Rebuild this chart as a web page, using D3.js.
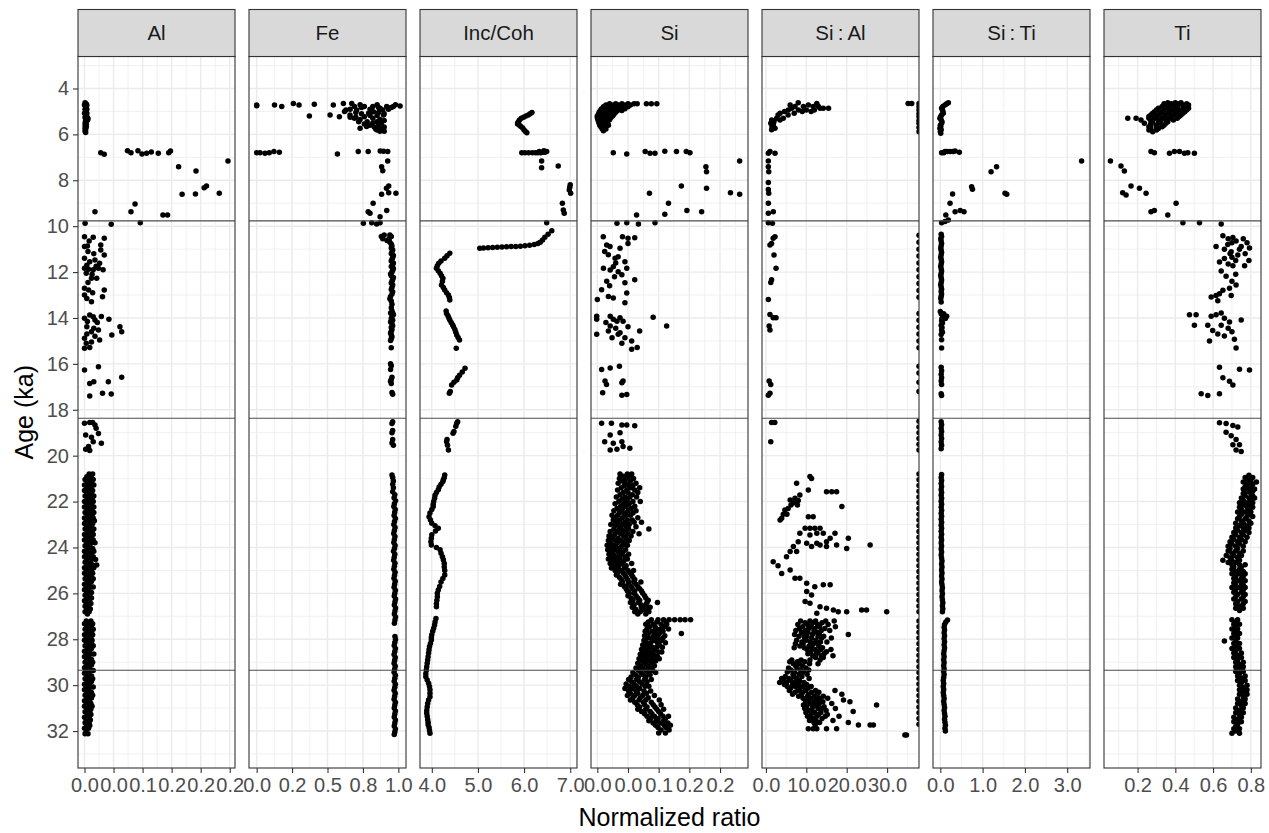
<!DOCTYPE html>
<html><head><meta charset="utf-8">
<script src="https://cdn.jsdelivr.net/npm/d3@7"></script>
<style>body{margin:0;background:#fff}svg{display:block}text{font-family:"Liberation Sans",Arial,sans-serif}</style>
</head><body><svg id="chart" width="1269" height="833"></svg>
<script>
// ---------- chart data ----------
const panelNames = ["Al","Fe","Inc/Coh","Si","Si\u2009:\u2009Al","Si\u2009:\u2009Ti","Ti"];
const xDomains = [[-0.0112,0.2591],[-0.054,1.054],[3.744,7.147],[-0.0103,0.2456],[-0.97,37.9],[-0.173,3.539],[0.022,0.854]];
const xTicks = [[0,.05,.1,.15,.2,.25],[0,.25,.5,.75,1],[4,5,6,7],[0,.05,.1,.15,.2],[0,10,20,30],[0,1,2,3],[.2,.4,.6,.8]];
const xTickLabels = [["0.0","0.0","0.1","0.2","0.2","0.2"],["0.0","0.2","0.5","0.8","1.0"],["4.0","5.0","6.0","7.0"],["0.0","0.0","0.1","0.2","0.2"],["0.0","10.0","20.0","30.0"],["0.0","1.0","2.0","3.0"],["0.2","0.4","0.6","0.8"]];
const xMinorTicks = [[.025,.075,.125,.175,.225],[.125,.375,.625,.875],[4.5,5.5,6.5],[.025,.075,.125,.175,.225],[5,15,25,35],[.5,1.5,2.5,3.5],[.1,.3,.5,.7]];
const yTicks = [4,6,8,10,12,14,16,18,20,22,24,26,28,30,32];
const yMinorTicks = [3,5,7,9,11,13,15,17,19,21,23,25,27,29,31,33];
const yDomain = [2.606,33.61];
const boundaryAges = [9.77,18.37,29.35];

// rows: [age (ka), value, value, ...]
const alRows = [
[4.62,.001],[4.68,.003],[4.72,.0,.004],[4.78,.002],[4.84,.003],[4.9,.001,.004],[4.96,.002],[5.02,.003],[5.08,.0,.004],[5.14,.002],[5.2,.003],[5.26,.005,.001],[5.32,.006,.003],[5.38,.002,.005],[5.44,.003],[5.5,.001],[5.56,.003],[5.62,.001],[5.68,.003],[5.74,.001],[5.8,.002],[5.86,.001],[5.92,.002],
[6.71,.074,.092],[6.72,.148],[6.77,.115],[6.8,.028,.080,.145],[6.82,.107,.127],[6.85,.099],[6.87,.034],
[7.16,.247],[7.41,.162],[7.6,.192],[8.25,.21],[8.32,.206],[8.57,.232],[8.6,.191],[8.61,.168],[9.03,.087],[9.37,.080,.018],[9.51,.135,.143],[9.85,.096],[9.87,.001],[9.92,.046],
[10.46,.0],[10.48,.015],[10.53,.034],[10.65,.008],[10.82,.028],[10.86,.005],[10.89,.0],[11.04,.028],[11.1,.006],[11.2,.016],[11.26,.034],[11.4,.0],[11.47,.018],[11.55,.009],[11.62,.026],[11.7,.004],[11.75,.02],[11.83,.0,.024],[11.88,.007],[11.9,.015,.032],[12.05,.003],[12.1,.013],[12.27,.012,.021],[12.45,.006],[12.7,.0],[12.78,.007,.034],[12.9,.014],[13.0,.0],[13.07,.031],[13.15,.004],[13.29,.012],[13.87,.009],[13.94,.029],[13.95,.015],[14.01,.0],[14.06,.042],[14.09,.018],[14.15,.005],[14.2,.022],[14.38,.004,.061],[14.45,.016],[14.52,.024],[14.6,.012,.064],[14.7,.004],[14.74,.047],[14.8,.018],[14.88,.0],[14.96,.026],[15.05,.012],[15.1,.003],[15.29,.009],[15.32,.0],[16.12,.024],[16.27,.0],[16.58,.064],[16.78,.016,.041],[16.85,.009],[17.28,.031],[17.31,.046],[17.4,.009],
[18.55,.014],[18.56,.009],[18.59,.0],[18.66,.018],[18.8,.02],[19.03,.024],[19.1,.002],[19.2,.012],[19.39,.015],[19.46,.029],[19.6,.007],[19.72,.002],[19.78,.009],
[20.8,.008,.014],[20.92,.004,.011],[21.04,.001,.008,.015],[21.16,.005,.012],[21.28,.0,.009,.016],[21.4,.004,.011],[21.52,.0,.007,.014],[21.64,.004,.012],[21.76,.001,.009,.016],[21.88,.005,.013],[22.0,.0,.008,.015],[22.12,.004,.012],[22.24,.0,.007,.016],[22.36,.004,.013],[22.48,.001,.009,.016],[22.6,.005,.013],[22.72,.0,.008,.015],[22.84,.003,.011,.017],[22.96,.0,.007,.014],[23.08,.004,.012],[23.2,.001,.009,.016],[23.32,.005,.013],[23.44,.0,.008,.015],[23.56,.003,.012],[23.68,.0,.007,.015],[23.8,.004,.012,.018],[23.92,.001,.009],[24.04,.005,.014],[24.16,.0,.008,.016],[24.28,.003,.012],[24.4,.0,.007,.015],[24.52,.004,.012,.019],[24.64,.001,.01],[24.76,.005,.014,.021],[24.88,.0,.008,.016],[25.0,.003,.012],[25.12,.0,.007,.014],[25.24,.004,.011],[25.36,.001,.009,.015],[25.48,.005,.012],[25.6,.0,.008],[25.72,.003,.011,.015],[25.84,.0,.007],[25.96,.004,.012],[26.08,.001,.009],[26.2,.005,.012],[26.32,.0,.008],[26.44,.003,.011],[26.56,.001,.007],[26.68,.004,.01],[26.8,.001,.008],[26.9,.005],
[27.2,.003,.011],[27.32,.0,.008,.014],[27.44,.004,.012],[27.56,.001,.009,.015],[27.68,.005,.012],[27.8,.0,.008,.014],[27.92,.003,.011],[28.04,.0,.007,.013],[28.16,.004,.012],[28.28,.001,.009,.015],[28.4,.005,.012],[28.52,.0,.008],[28.64,.003,.011,.016],[28.76,.0,.007],[28.88,.004,.012],[29.0,.001,.009,.014],[29.12,.005,.012],[29.24,.0,.008],[29.36,.003,.011,.015],[29.48,.0,.007],[29.6,.004,.012],[29.72,.001,.009,.014],[29.84,.005,.012],[29.96,.0,.008],[30.08,.003,.011,.015],[30.2,.0,.007],[30.32,.004,.012],[30.44,.001,.009,.014],[30.56,.005,.012],[30.68,.0,.008],[30.8,.003,.011],[30.92,.0,.007,.013],[31.04,.004,.011],[31.16,.001,.009],[31.28,.005,.011],[31.4,.0,.008],[31.52,.003,.01],[31.64,.001,.008],[31.76,.004,.009],[31.88,.0,.007],[32.0,.003],[32.12,.001,.006]
];

const feRows = [
[4.72,.0,.126,.299,.541],[4.75,.0],[4.79,.177,.69,.76,.82,.918,.965],[4.65,.259,.612,.671],[4.69,.407],[4.76,1.012],[4.71,.73,.85,.98],[4.83,.74,.86,.95],[4.86,.872],[4.9,.66,.8,.93],[4.94,.706,.63,.89],[5.0,.62],[5.01,.824],[5.05,.7,.86],[5.08,.79],[5.1,.74,.9],[5.15,.518,.659,.895],[5.18,.8,.85],[5.2,.372],[5.23,.584,.76],[5.25,.66,.7],[5.3,.69,.82],[5.35,.73,.87],[5.4,.9],[5.45,.72,.78,.85],[5.5,.82,.88],[5.55,.76],[5.6,.80],[5.62,.86],[5.66,.776],[5.68,.83,.9],[5.72,.87],[5.73,.73],[5.76,.84],[5.81,.895,.85],[5.86,.9,.87],
[6.8,.0,.024,.089],[6.82,.059],[6.75,.122,.717,.787,.925],[6.78,.16],[6.85,.57],[6.72,.872],[6.74,.895],[7.16,.925],[7.41,.882],[7.58,.89],[8.25,.932],[8.35,.916],[8.54,.932],[8.57,.983],[8.61,.882],[9.0,.822],[9.32,.918],[9.37,.787],[9.44,.80],[9.59,.871],[9.85,.812,.871],[9.87,.753],[9.9,.847],
[10.38,.9,.94],[10.45,.88,.95],[10.55,.89,.935],[10.62,.92],[10.7,.94],[10.78,.95],[10.86,.955],[10.95,.95],[11.04,.96],[11.12,.955],[11.2,.95],[11.28,.965],[11.36,.96],[11.44,.955],[11.52,.95],[11.6,.965],[11.68,.96],[11.76,.95],[11.84,.965],[11.92,.96],[12.0,.955],[12.08,.945],[12.16,.95],[12.24,.965],[12.32,.96],[12.4,.955],[12.48,.95],[12.56,.96],[12.66,.955],[12.76,.95],[12.86,.96],[12.96,.955],[13.06,.945],[13.16,.94],[13.26,.95],[13.4,.955],[13.55,.95],[13.7,.955],[13.78,.96,.945],[13.86,.965],[13.94,.955],[14.02,.95],[14.1,.96],[14.18,.945],[14.26,.955],[14.34,.96],[14.42,.95],[14.5,.955],[14.58,.95],[14.66,.945],[14.74,.95],[14.82,.955],[14.9,.95],[14.98,.945],[15.3,.95],[16.0,.945],[16.08,.95],[16.25,.945],[16.58,.955],[16.68,.95],[16.76,.945],[16.86,.95],[17.25,.955],[17.32,.96],
[18.52,.96],[18.6,.955],[18.9,.96],[19.0,.955],[19.3,.96],[19.45,.955],[19.55,.965],
[20.84,.955],[20.95,.96],[21.1,.965],[21.25,.96],[21.4,.965],[21.57,.96],
[21.7,.975],[21.83,.97],[21.96,.98],[22.09,.972],[22.22,.968],[22.35,.978],[22.48,.974],[22.61,.97],[22.74,.979],[22.87,.973],[23.0,.968],[23.13,.977],[23.26,.972],[23.39,.967],[23.52,.976],[23.65,.972],[23.78,.968],[23.91,.977],[24.04,.973],[24.17,.966],[24.3,.975],[24.43,.971],[24.56,.967],[24.69,.976],[24.82,.972],[24.95,.968],[25.08,.977],[25.21,.973],[25.34,.969],[25.47,.978],[25.6,.974],[25.73,.97],[25.86,.979],[25.99,.975],[26.12,.971],[26.25,.98],[26.38,.976],[26.51,.972],[26.64,.98],[26.77,.976],[26.9,.972],[27.03,.98],[27.16,.976],[27.3,.972],
[27.88,.976],[28.01,.98],[28.14,.975],[28.27,.971],[28.4,.979],[28.53,.975],[28.66,.97],[28.79,.978],[28.92,.974],[29.05,.97],[29.18,.978],[29.31,.974],[29.44,.97],[29.57,.979],[29.7,.975],[29.83,.971],[29.96,.979],[30.09,.975],[30.22,.97],[30.35,.978],[30.48,.974],[30.61,.97],[30.74,.979],[30.87,.975],[31.0,.971],[31.13,.979],[31.26,.975],[31.39,.971],[31.52,.979],[31.65,.975],[31.78,.971],[31.91,.979],[32.04,.975],[32.15,.971]
];

const incCohRows = [
[5.05,6.17],[5.1,6.13],[5.15,6.09],[5.2,6.04],[5.25,5.99],[5.3,5.94],[5.37,5.9],[5.45,5.88],[5.5,5.86],[5.55,5.86],[5.6,5.9],[5.66,5.93],[5.72,5.97],[5.81,6.0],[5.87,6.03],[5.93,6.06],
[6.8,5.95,6.02,6.1,6.18,6.25,6.3,6.36],[6.78,6.4,6.45],[6.71,6.43],[6.75,6.49,6.33],[7.16,6.38],[7.45,6.38],[7.38,6.74],[8.2,7.0],[8.3,6.99],[8.42,6.98],[8.57,7.01],[9.0,6.83],[9.3,6.85],[9.44,6.87],[9.85,6.49],
[10.2,6.6],[10.35,6.52],[10.48,6.45],[10.6,6.4],[10.7,6.35],[10.76,6.3],[10.8,6.22],[10.83,6.12],[10.85,6.02],[10.87,5.92],[10.88,5.82],[10.89,5.72],[10.9,5.62],[10.91,5.52],[10.92,5.42],[10.93,5.32],[10.94,5.22],[10.95,5.12],[10.96,5.04],
[11.18,4.39],[11.29,4.33],[11.4,4.28],[11.52,4.2],[11.62,4.15],[11.72,4.12],[11.83,4.1],[11.94,4.14],[12.05,4.18],[12.16,4.21],[12.27,4.24],[12.4,4.23],[12.56,4.21],[12.67,4.25],[12.78,4.28],[12.9,4.32],[13.0,4.36],[13.11,4.38],[13.22,4.39],[13.7,4.31],[13.8,4.32],[13.9,4.35],[14.0,4.37],[14.09,4.39],[14.2,4.42],[14.3,4.45],[14.38,4.47],[14.5,4.5],[14.62,4.52],[14.74,4.54],[14.85,4.57],[14.96,4.6],[15.32,4.53],[16.19,4.72],[16.35,4.66],[16.5,4.6],[16.6,4.56],[16.7,4.54],[16.8,4.48],[16.92,4.43],[17.2,4.4],[17.28,4.38],
[18.52,4.56],[18.59,4.54],[18.72,4.52],[18.95,4.48],[19.02,4.46],[19.3,4.33],[19.39,4.32],[19.55,4.34],[19.75,4.36],
[20.84,4.28],[20.95,4.27],[21.05,4.25],[21.13,4.24],[21.25,4.2],[21.37,4.16],[21.49,4.14],[21.6,4.1],[21.72,4.07],[21.86,4.06],[22.0,4.04],[22.12,4.03],[22.22,4.03],[22.35,4.0],[22.5,3.96],[22.66,3.94],[22.8,3.97],[22.95,4.0],[23.05,4.07],[23.16,4.14],[23.28,4.08],[23.45,4.0],[23.6,3.99],[23.75,3.98],[23.89,3.99],[24.0,4.1],[24.1,4.18],[24.25,4.2],[24.4,4.23],[24.54,4.25],[24.7,4.27],[24.85,4.27],[25.0,4.28],[25.2,4.28],[25.35,4.24],[25.5,4.2],[25.7,4.17],[25.85,4.14],[26.0,4.12],[26.15,4.12],[26.3,4.11],[26.45,4.1],[26.58,4.1],
[27.1,4.09],[27.25,4.07],[27.38,4.06],[27.52,4.04],[27.65,4.02],[27.8,4.0],[27.92,3.99],[28.03,3.99],[28.18,3.97],[28.32,3.95],[28.46,3.94],[28.6,3.93],[28.76,3.92],[28.9,3.91],[29.05,3.9],[29.2,3.89],[29.35,3.88],[29.5,3.87],[29.63,3.87],[29.78,3.9],[29.92,3.93],[30.06,3.95],[30.2,3.96],[30.35,3.96],[30.5,3.96],[30.65,3.93],[30.8,3.91],[30.95,3.9],[31.1,3.89],[31.22,3.89],[31.36,3.9],[31.5,3.91],[31.62,3.92],[31.73,3.92],[31.85,3.94],[31.98,3.95],[32.1,3.96]
];

const siRows = [
[4.66,.02,.03,.04,.05,.06,.065,.08,.088,.097],[4.72,.014,.024,.034,.044,.054],[4.8,.01,.02,.03,.04,.05],[4.88,.007,.016,.026,.036,.045],[4.96,.005,.014,.023,.033,.04],[5.04,.003,.012,.021,.03],[5.12,.002,.01,.019,.027],[5.2,.0,.008,.017,.025],[5.28,.0,.007,.015,.022],[5.36,.001,.007,.014,.02],[5.44,.002,.008,.015],[5.52,.003,.01,.017],[5.6,.004,.011,.018],[5.68,.006,.012],[5.76,.008,.014],[5.84,.01],
[6.8,.026,.151],[6.85,.048],[6.75,.078,.129,.145],[6.82,.086,.094],[6.73,.110],
[7.16,.232],[7.41,.177],[7.63,.178],[8.25,.137],[8.35,.178],[8.54,.217],[8.61,.232],[8.57,.085],[9.0,.116],[9.48,.11],[9.32,.146],[9.37,.17],[9.51,.064],[9.87,.032],[9.85,.048,.094],[9.9,.067],
[10.46,.0097,.041],[10.53,.05],[10.5,.061],[10.82,.0153],[10.89,.0207],[10.96,.037],[10.75,.05],[11.1,.012],[11.25,.018],[11.4,.029],[11.33,.034],[11.55,.045],[11.6,.03],[11.83,.01,.048],[11.91,.021],[11.77,.026],[11.99,.034],[12.12,.04],[12.2,.028],[12.4,.0153],[12.47,.045],[12.33,.061],[12.6,.02],[12.77,.007],[13.2,.0],[13.06,.018],[13.13,.026],[12.91,.048],[13.34,.045],[13.92,-.001,.021],[14.06,-.001,.026],[14.14,.032,.042],[13.99,.037],[13.97,.091],[14.2,.014],[14.35,.113,.021],[14.45,.03],[14.57,.018,.069],[14.64,.037],[14.38,.05],[14.86,.045,.024],[15.0,.056],[15.1,.04],[14.71,-.001,.034],[15.36,.056],[15.29,.065],[16.25,.007],[16.18,.021],[16.1,.036],[16.75,.0125,.042],[16.9,.015],[16.82,.04],[17.26,.0087],[17.37,.04],[17.33,.048],
[18.59,.007,.023],[18.66,.04,.048],[18.7,.061],[19.1,.021],[19.0,.037],[19.39,.012,.04],[19.46,.026],[19.75,.021],[19.72,.032],[19.68,.053],[19.6,.042],
[20.8,.037,.049,.056],[20.9,.043,.052],[21.0,.036,.047,.059],[21.1,.041,.054],[21.2,.034,.046,.063],[21.3,.044,.051,.058],[21.4,.039,.055,.069],[21.5,.033,.048,.061],[21.6,.042,.05,.066],[21.7,.037,.057],[21.8,.031,.045,.053,.064],[21.9,.04,.049],[22.0,.035,.046,.058,.07],[22.1,.029,.043,.052],[22.2,.038,.047,.061],[22.3,.032,.041,.055],[22.4,.027,.039,.05,.063],[22.5,.036,.044,.058],[22.6,.024,.033,.047,.054],[22.7,.03,.041,.066],[22.8,.026,.037,.049,.057],[22.9,.033,.045,.06,.072],[23.0,.022,.029,.041,.052],[23.1,.035,.047,.063],[23.2,.027,.039,.051,.084],[23.3,.021,.032,.044,.058],[23.4,.029,.038,.05,.068],[23.5,.019,.026,.043,.055],[23.6,.024,.034,.047],[23.7,.018,.03,.039,.052],[23.8,.022,.033,.045],[23.9,.016,.027,.041,.049],[24.0,.021,.031,.038],[24.1,.017,.028,.036,.046],[24.2,.023,.034,.042],[24.3,.019,.026,.039,.051],[24.4,.024,.033,.045],[24.5,.018,.029,.037,.049],[24.6,.025,.036,.043],[24.7,.021,.031,.04,.056],[24.8,.027,.035,.047],[24.9,.023,.032,.044],[25.0,.029,.038,.05,.059],[25.1,.033,.042,.053],[25.2,.031,.045,.056],[25.3,.036,.047,.058],[25.4,.039,.049,.061],[25.5,.041,.052,.06,.071],[25.6,.038,.05,.063],[25.7,.044,.055,.066],[25.8,.047,.057,.069],[25.9,.049,.061,.072],[26.0,.052,.06,.074],[26.1,.05,.063,.077],[26.2,.055,.066,.079],[26.3,.058,.069,.083],[26.4,.054,.067,.081,.098],[26.5,.06,.071,.079],[26.6,.057,.072,.086],[26.7,.063,.075,.081],[26.8,.061,.07,.084],[26.9,.066,.079],
[27.15,.088,.099,.108,.117,.126,.135,.143,.152],[27.25,.083,.097,.112],[27.35,.079,.091,.104,.113],[27.45,.085,.094,.109],[27.55,.081,.096,.103,.116],[27.65,.078,.089,.107],[27.75,.083,.095,.101,.137],[27.85,.077,.092,.11],[27.95,.082,.088,.099,.107],[28.05,.076,.093,.104],[28.15,.08,.087,.098,.111],[28.25,.074,.085,.101],[28.35,.079,.09,.097,.106],[28.45,.072,.083,.094],[28.55,.077,.088,.1,.105],[28.65,.07,.081,.092],[28.75,.075,.086,.098],[28.85,.068,.079,.091,.101],[28.95,.073,.084,.095],[29.05,.066,.077,.089],[29.15,.07,.082,.093],[29.25,.063,.074,.086],[29.35,.067,.079,.09],[29.45,.058,.071,.083,.095],[29.55,.062,.075,.086],[29.65,.055,.067,.079],[29.75,.051,.064,.077,.088],[29.85,.056,.069,.081],[29.95,.047,.06,.073],[30.05,.052,.064,.078,.084],[30.15,.045,.057,.069],[30.25,.051,.063,.076,.087],[30.35,.054,.066,.08],[30.45,.049,.061,.074,.093],[30.55,.058,.07,.083],[30.65,.054,.068,.079,.101],[30.75,.061,.075,.088],[30.85,.065,.077,.091,.104],[30.95,.069,.081,.094],[31.05,.066,.079,.097,.108],[31.15,.072,.086,.1],[31.25,.077,.089,.103],[31.35,.081,.093,.107,.116],[31.45,.087,.099,.111],[31.55,.084,.096,.108],[31.65,.091,.103,.115],[31.75,.095,.109,.119],[31.85,.099,.112],[31.95,.104,.117],[32.08,.1,.111]
];

const siAlRows = [
[4.62,8.0],[4.65,12.6,35.2,36.1],[4.72,10.5,6.0],[4.79,7.2,9.27,11.7,13.0],[4.86,6.38,14.2,13.4,15.5],[4.94,5.54,8.03,10.0,12.0],[5.0,4.6,9.0,11.2],[5.08,3.5,7.0],[5.15,3.0,5.5],[5.3,2.67,4.3],[5.37,1.43,3.49],[5.45,2.0],[5.52,1.2],[5.59,1.83],[5.66,1.5],[5.73,2.25],[5.8,1.4],
[4.65,37.9],[4.8,37.9],[4.94,37.9],[5.1,37.9],[5.23,37.9],[5.4,37.9],[5.52,37.9],[5.7,37.9],[5.88,37.9],
[6.75,1.0],[6.82,0.6,2.25],[7.16,0.6],[7.41,0.6],[7.63,0.7],[8.1,0.6],[8.4,0.6],[8.57,0.7],[9.0,0.6],[9.37,1.83],[9.44,0.6],[9.85,0.6],
[9.87,1.6],[10.53,1.8],[10.46,2.25],[10.82,1.0],[10.75,1.4],[11.26,2.0],[11.83,2.5],[12.33,1.4],[12.45,1.2],[13.2,0.6],[13.85,1.0],[13.99,1.8,2.5],[14.35,0.8],[14.52,1.0],[16.75,0.8],[16.9,1.2],[17.28,1.0],[17.37,0.6],
[10.4,37.9],[10.7,37.9],[11.0,37.9],[11.3,37.9],[11.6,37.9],[11.9,37.9],[12.2,37.9],[12.5,37.9],[12.8,37.9],[13.1,37.9],[13.8,37.9],[14.1,37.9],[14.4,37.9],[14.7,37.9],[15.0,37.9],[15.3,37.9],[16.1,37.9],[16.4,37.9],[16.8,37.9],[17.2,37.9],
[18.56,1.4,2.2],[19.39,1.2],
[20.91,10.9],[20.99,11.3],[21.2,7.6],[21.5,10.5],[21.57,15.0,16.3,17.5],[21.71,8.4],[21.86,7.2],[21.93,6.0],[21.95,8.0],[22.05,6.9],[22.15,7.8,6.2],[22.22,18.8],[22.3,5.5],[22.37,4.7],[22.55,4.3,5.2],[22.66,10.5,11.7],[22.73,3.9],[22.8,3.5],[23.16,10.9,9.7,12.1,13.4],[23.38,8.4,12.6,14.2,17.1],[23.46,10.9],[23.6,20.4,15.9],[23.75,15.0,8.0],[23.82,12.6,10.1],[23.89,13.4,17.5,25.8],[23.96,6.8,11.3,15.0],[24.04,20.0],
[24.18,6.0,7.6],[24.4,5.1],[24.62,1.8],[24.8,3.0],[24.98,6.0],[25.13,3.9],[25.34,7.2,8.4],[25.56,10.1],[25.63,14.2,15.9],[25.71,12.1],[25.92,10.1],[26.07,11.3],[26.36,9.7],[26.43,10.9],[26.58,13.4],[26.65,15.0],[26.72,16.7,23.7,24.9],[26.8,17.9,20.0,29.9],[26.87,12.6],
[27.2,8.6,10.9,12.3,14.8,16.9],[27.28,9.7,11.6,13.9],[27.36,7.9,10.3,12.8,15.4],[27.45,9.1,11.2,13.3,17.2],[27.53,8.3,10.6,12.1,14.6],[27.62,7.4,9.8,11.9,13.7,15.8],[27.7,8.8,10.4,12.6],[27.79,7.1,9.4,11.5,13.2,20.4],[27.87,8.2,10.1,12.9,14.3],[27.95,9.6,11.3,13.8,16.2],[28.04,7.6,10.0,12.4],[28.12,8.9,11.0,13.5,15.1],[28.2,7.3,9.2,11.7,12.8],[28.29,8.4,10.7,13.1],[28.37,7.0,9.5,11.4,14.0],[28.45,10.2,12.2,13.6,16.1],[28.54,11.1,12.9,15.0],[28.63,10.4,12.5,14.4],[28.72,11.6,13.7,16.6],[28.8,12.3,14.2],[28.9,6.4,8.7,10.9,13.4],[28.98,5.9,7.8,9.6],[29.07,6.8,8.3,10.8,12.9],[29.16,7.4,9.1],[29.25,5.6,7.7,9.9],[29.34,6.2,8.6,10.6],[29.43,5.3,7.1,9.3],[29.52,6.7,8.2,10.2],
[29.62,4.8,6.9,8.9],[29.71,3.9,5.7,7.6,10.7],[29.8,4.4,6.2,8.3],[29.88,3.4,5.1,7.2,9.4],[29.97,4.6,6.6,8.1,10.1],[30.06,5.3,7.3,9.2,11.2],[30.14,6.1,8.4,10.4],[30.23,5.8,7.9,9.8,12.3,17.1],[30.31,7.2,9.1,11.3,13.1],[30.4,6.6,8.8,10.6,12.7,18.8],[30.48,8.1,10.3,12.0,14.2],[30.57,9.2,11.1,13.3,15.3],[30.65,10.4,12.6,19.2],[30.72,9.8,11.9,14.1,20.8],[30.8,10.9,13.2,16.3],[30.86,9.3,12.4,27.4],[30.94,10.1,11.6,14.4],[31.02,9.6,12.9,13.8,17.2],[31.1,10.7,11.4,14.9],[31.15,21.6],[31.19,9.9,12.1,13.6],[31.28,11.2,13.0,15.2],[31.36,10.3,12.6,14.7,18.1],[31.45,11.5,13.9],[31.54,10.8,12.4,16.6],[31.63,11.9,13.3,20.4],[31.74,22.9,25.8,26.6,12.2],[31.9,10.5,11.7,12.6,15.0,17.5],[32.17,34.4,34.8],
[18.5,37.9],[18.75,37.9],[19.0,37.9],[19.25,37.9],[19.5,37.9],[19.75,37.9],[20.8,37.9],[21.05,37.9],[21.3,37.9],[21.55,37.9],[21.8,37.9],[22.05,37.9],[22.3,37.9],[22.55,37.9],[22.8,37.9],[23.05,37.9],[23.3,37.9],[23.55,37.9],[23.8,37.9],[24.05,37.9],[24.3,37.9],[24.55,37.9],[24.8,37.9],[25.05,37.9],[25.3,37.9],[25.55,37.9],[25.8,37.9],[26.05,37.9],[26.3,37.9],[26.55,37.9],[26.8,37.9],[27.2,37.9],[27.45,37.9],[27.7,37.9],[27.95,37.9],[28.2,37.9],[28.45,37.9],[28.7,37.9],[28.95,37.9],[29.2,37.9],[29.45,37.9],[29.7,37.9],[29.95,37.9],[30.2,37.9],[30.45,37.9],[30.7,37.9],[30.95,37.9],[31.2,37.9],[31.45,37.9],[31.7,37.9]
];

const siTiRows = [
[4.62,.19],[4.67,.15],[4.72,.11],[4.78,.06],[4.86,.03],[4.93,.05],[5.0,.06],[5.08,.07],[5.15,.03],[5.22,.01],[5.3,-.01],[5.37,.02],[5.45,.04],[5.52,.03],[5.6,.0],[5.66,.01],[5.73,-.01],[5.8,.02],[5.88,.0],[5.95,.01],
[6.8,.03,.08],[6.75,.11,.16,.23,.3],[6.72,.35],[6.78,.45],[7.16,3.34],[7.63,1.2],[7.41,1.33],[8.28,.74],[8.39,.76],[8.57,1.53],[8.61,1.57],[8.6,.29],[9.0,.23],[9.51,.13],[9.37,.35,.56],[9.32,.47],[9.85,.03],[9.8,.11],[9.73,.19],
[10.35,.02],[10.45,.03],[10.55,.01],[10.65,.02],[10.75,.03],[10.85,.02],[10.95,.01],[11.05,.02],[11.15,.03],[11.25,.02],[11.35,.01],[11.45,.02],[11.55,.03],[11.65,.02],[11.75,.01],[11.85,.02],[11.95,.03],[12.05,.02],[12.15,.01],[12.25,.02],[12.35,.03],[12.45,.02],[12.55,.01],[12.65,.02],[12.75,.03],[12.85,.02],[12.95,.03],[13.05,.02],[13.15,.01],[13.3,.02],
[13.72,.0],[13.82,.02,.08],[13.92,.06,.15],[14.02,.04,.12],[14.12,.03],[14.22,.05],[14.32,.02],[14.42,.04],[14.52,.03],[14.62,.05],[14.72,.02],[14.95,.03],[15.31,.03],
[16.15,.02],[16.3,.03],[16.45,.02],[16.6,.03],[16.75,.02],[16.9,.03],[17.3,.02],[17.38,.03],
[18.52,.02],[18.65,.03],[18.8,.02],[18.95,.03],[19.1,.02],[19.25,.03],[19.4,.02],[19.55,.03],[19.7,.02],
[20.82,.03],[20.95,.02],[21.08,.03],[21.21,.02],[21.34,.03],[21.47,.02],[21.6,.03],[21.73,.02],[21.86,.03],[21.99,.02],[22.12,.03],[22.25,.02],[22.38,.03],[22.51,.02],[22.64,.03],[22.77,.02],[22.9,.03],[23.03,.02],[23.16,.03],[23.29,.02],[23.42,.03],[23.55,.02],[23.68,.03],[23.81,.02],[23.94,.03],[24.07,.02],[24.2,.03],[24.33,.02],[24.46,.03],[24.59,.04],[24.72,.03],[24.85,.04],[24.98,.03],[25.11,.04],[25.24,.03],[25.37,.04],[25.5,.03],[25.63,.04],[25.76,.05],[25.89,.04],[26.02,.05],[26.15,.04],[26.28,.05],[26.41,.06],[26.54,.05],[26.67,.06],[26.8,.05],
[27.16,.17],[27.25,.13],[27.36,.1],[27.48,.09],[27.6,.1],[27.72,.09],[27.85,.1],[27.98,.09],[28.11,.1],[28.24,.09],[28.37,.1],[28.5,.09],[28.63,.08],[28.76,.09],[28.89,.08],[29.02,.09],[29.15,.08],[29.28,.09],[29.41,.08],[29.54,.09],[29.67,.08],[29.8,.07],[29.93,.08],[30.06,.07],[30.19,.08],[30.32,.07],[30.45,.08],[30.58,.09],[30.71,.08],[30.84,.09],[30.97,.1],[31.1,.09],[31.23,.1],[31.36,.11],[31.49,.1],[31.62,.11],[31.75,.12],[31.88,.11],[32.0,.12]
];

const tiRows = [
[4.62,.36,.40,.43],[4.67,.34,.38,.42,.46],[4.72,.35,.39,.44,.47],[4.79,.33,.37,.41,.45],[4.86,.31,.36,.40,.44,.47],[4.94,.30,.34,.38,.42,.46],[5.01,.29,.33,.37,.41,.45],[5.08,.28,.32,.36,.40,.44],[5.15,.27,.31,.35,.39,.43],[5.22,.26,.30,.34,.38,.42],[5.3,.148,.192,.26,.29,.33,.37,.41],[5.37,.218,.27,.31,.35,.39],[5.45,.28,.32,.36],[5.52,.236,.27,.31,.35],[5.6,.27,.3,.34],[5.67,.26,.3,.33],[5.74,.27,.31],[5.81,.26,.3],[5.88,.28],
[6.75,.271,.395,.422],[6.8,.289,.466],[6.82,.369,.448,.501],
[7.16,.056],[7.38,.112],[7.6,.13],[8.54,.121],[8.64,.139],[8.25,.165],[8.35,.21],[8.57,.245],[9.37,.271],[9.32,.289],[9.51,.36],[9.0,.404],[9.85,.44,.528],[9.9,.643],
[10.42,.652],[10.49,.705],[10.55,.68,.76],[10.65,.722],[10.72,.7,.78],[10.8,.678],[10.88,.749,.616],[10.95,.793],[11.0,.66,.74],[11.11,.696],[11.2,.69,.77],[11.26,.731],[11.35,.7],[11.41,.66],[11.5,.72,.79],[11.56,.634],[11.65,.68],[11.72,.767,.705],
[11.95,.643],[12.1,.72],[12.18,.669],[12.4,.7],[12.56,.722],[12.71,.687],[12.79,.652],[12.94,.634],[13.02,.616,.696],[13.09,.590],[13.25,.625],
[13.78,.643],[13.86,.475,.51,.616],[13.93,.59],[14.01,.66],[14.09,.749],[14.17,.687],[14.32,.501,.572,.643],[14.45,.68],[14.55,.598],[14.6,.7],[14.7,.625],[14.78,.66],[14.93,.713],[15.0,.581],[15.31,.722],
[16.15,.634],[16.23,.74],[16.27,.793],[16.61,.652],[16.76,.687],[16.92,.705],[17.3,.537,.634],[17.38,.572],
[18.57,.634],[18.6,.669],[18.68,.705],[18.75,.731],[18.98,.669],[19.13,.696],[19.29,.722],[19.52,.74,.705],[19.75,.722],[19.82,.749],
[20.85,.79],[20.95,.77,.81],[21.05,.78,.8],[21.15,.76,.8,.83],[21.25,.78,.81],[21.35,.77,.8],[21.45,.76,.79,.82],[21.55,.78,.81],[21.65,.76,.8],[21.75,.77,.81],[21.85,.75,.79,.82],[21.95,.76,.8],
[22.05,.74,.78,.81],[22.15,.76,.8],[22.25,.74,.78,.81],[22.35,.75,.79],[22.45,.73,.77,.8],[22.55,.75,.79],[22.65,.74,.78,.81],[22.75,.73,.77],[22.85,.75,.79],[22.95,.72,.76,.8],[23.05,.74,.78],[23.15,.72,.76,.79],[23.25,.73,.77],[23.35,.71,.75,.79],[23.45,.72,.76],
[23.55,.7,.74,.78],[23.65,.71,.75],[23.75,.69,.73,.77],[23.85,.7,.74],[23.95,.68,.72,.76],[24.05,.69,.73],[24.15,.68,.72,.76],[24.25,.7,.74],[24.35,.67,.71,.75],[24.45,.69,.73],[24.56,.652,.7,.74],[24.65,.68,.72],[24.75,.7,.74,.77],[24.85,.71,.75],[24.95,.7,.74],
[25.05,.72,.76],[25.15,.7,.74,.77],[25.25,.72,.76],[25.35,.71,.75],[25.45,.73,.77],[25.55,.71,.75],[25.65,.72,.76],[25.75,.7,.74,.77],[25.85,.72,.76],[25.95,.71,.75],[26.05,.73,.77],[26.15,.72,.76],[26.25,.71,.75],[26.35,.73,.77],[26.45,.72,.76],[26.55,.74],[26.65,.72,.76],[26.75,.74],
[27.15,.7,.73],[27.25,.72],[27.35,.71,.74],[27.45,.72],[27.55,.7,.73],[27.65,.72],[27.75,.71,.74],[27.85,.72],[27.95,.7,.73],[28.08,.66,.72],[28.18,.71,.74],[28.3,.72],[28.4,.7,.74],[28.5,.72],[28.6,.71,.75],[28.7,.73],[28.8,.71,.75],[28.9,.73],[29.0,.72,.76],[29.1,.74],[29.2,.72,.76],[29.3,.74],[29.4,.72,.76],[29.5,.74],[29.6,.73,.77],[29.7,.75],[29.8,.73,.77],[29.9,.75],[30.0,.74,.78],[30.1,.76],[30.2,.74,.78],[30.3,.76],[30.4,.74,.78],[30.5,.76],[30.6,.73,.77],[30.7,.75],[30.8,.73,.77],[30.9,.75],[31.0,.72,.76],[31.1,.74],[31.2,.72,.76],[31.3,.74],[31.4,.71,.75],[31.5,.73],[31.6,.71,.75],[31.7,.73],[31.8,.72],[31.9,.71,.74],[32.0,.72],[32.1,.7,.74]
];

const rowsByPanel = [alRows, feRows, incCohRows, siRows, siAlRows, siTiRows, tiRows];

// ---------- drawing ----------
(function draw() {
  const svg = d3.select("#chart");
  const FONT = '"Liberation Sans", Arial, sans-serif';
  const panelW = 157, gap = 14, left0 = 78, pTop = 56.5, pBottom = 768, stripTop = 9.5;
  const y = d3.scaleLinear().domain(yDomain).range([pTop, pBottom]);
  const defs = svg.append("defs");

  panelNames.forEach((name, i) => {
    const x0 = left0 + i * (panelW + gap);
    const x = d3.scaleLinear().domain(xDomains[i]).range([x0, x0 + panelW]);
    const g = svg.append("g");
    g.append("rect").attr("x", x0).attr("y", pTop).attr("width", panelW).attr("height", pBottom - pTop).attr("fill", "#fff");
    g.selectAll(null).data(xMinorTicks[i]).join("line")
      .attr("x1", d => x(d)).attr("x2", d => x(d)).attr("y1", pTop).attr("y2", pBottom)
      .attr("stroke", "#EBEBEB").attr("stroke-width", 0.7);
    g.selectAll(null).data(yMinorTicks).join("line")
      .attr("x1", x0).attr("x2", x0 + panelW).attr("y1", d => y(d)).attr("y2", d => y(d))
      .attr("stroke", "#EBEBEB").attr("stroke-width", 0.7);
    g.selectAll(null).data(xTicks[i]).join("line")
      .attr("x1", d => x(d)).attr("x2", d => x(d)).attr("y1", pTop).attr("y2", pBottom)
      .attr("stroke", "#EBEBEB").attr("stroke-width", 1.4);
    g.selectAll(null).data(yTicks).join("line")
      .attr("x1", x0).attr("x2", x0 + panelW).attr("y1", d => y(d)).attr("y2", d => y(d))
      .attr("stroke", "#EBEBEB").attr("stroke-width", 1.4);
    const clipId = "clip" + i;
    defs.append("clipPath").attr("id", clipId).append("rect")
      .attr("x", x0).attr("y", pTop).attr("width", panelW).attr("height", pBottom - pTop);
    const pts = rowsByPanel[i].flatMap(r => r.slice(1).map(v => [r[0], v]));
    g.append("g").attr("clip-path", `url(#${clipId})`)
      .selectAll("circle").data(pts).join("circle")
      .attr("cx", d => x(d[1])).attr("cy", d => y(d[0])).attr("r", 2.75).attr("fill", "#000");
    g.selectAll(null).data(boundaryAges).join("line")
      .attr("x1", x0).attr("x2", x0 + panelW).attr("y1", d => y(d)).attr("y2", d => y(d))
      .attr("stroke", "#4D4D4D").attr("stroke-width", 1.1);
    g.append("rect").attr("x", x0).attr("y", pTop).attr("width", panelW).attr("height", pBottom - pTop)
      .attr("fill", "none").attr("stroke", "#333333").attr("stroke-width", 1.1);
    g.append("rect").attr("x", x0).attr("y", stripTop).attr("width", panelW).attr("height", pTop - stripTop)
      .attr("fill", "#D9D9D9").attr("stroke", "#333333").attr("stroke-width", 1.1);
    g.append("text").attr("x", x0 + panelW / 2).attr("y", (stripTop + pTop) / 2 + 7)
      .attr("text-anchor", "middle").attr("fill", "#1A1A1A").style("font-size", "20.5px").style("font-family", FONT)
      .text(name);
    const ax = g.append("g").attr("transform", `translate(0,${pBottom})`)
      .call(d3.axisBottom(x).tickValues(xTicks[i]).tickFormat((d, j) => xTickLabels[i][j]).tickSize(5).tickSizeOuter(0).tickPadding(5));
    ax.select(".domain").remove();
    ax.selectAll("line").attr("stroke", "#333333").attr("stroke-width", 1.1);
    ax.selectAll("text").attr("fill", "#4D4D4D").style("font-size", "20px").style("font-family", FONT);
  });

  const ay = svg.append("g").attr("transform", `translate(${left0},0)`)
    .call(d3.axisLeft(y).tickValues(yTicks).tickSize(5).tickSizeOuter(0).tickPadding(4));
  ay.select(".domain").remove();
  ay.selectAll("line").attr("stroke", "#333333").attr("stroke-width", 1.1);
  ay.selectAll("text").attr("fill", "#4D4D4D").style("font-size", "20px").style("font-family", FONT);

  svg.append("text").attr("x", (left0 + left0 + 7 * panelW + 6 * gap) / 2).attr("y", 826)
    .attr("text-anchor", "middle").attr("fill", "#000").style("font-size", "25px").style("font-family", FONT)
    .text("Normalized ratio");
  svg.append("text").attr("transform", `translate(33,${(pTop + pBottom) / 2}) rotate(-90)`)
    .attr("text-anchor", "middle").attr("fill", "#000").style("font-size", "25px").style("font-family", FONT)
    .text("Age (ka)");
})();
</script></body></html>
